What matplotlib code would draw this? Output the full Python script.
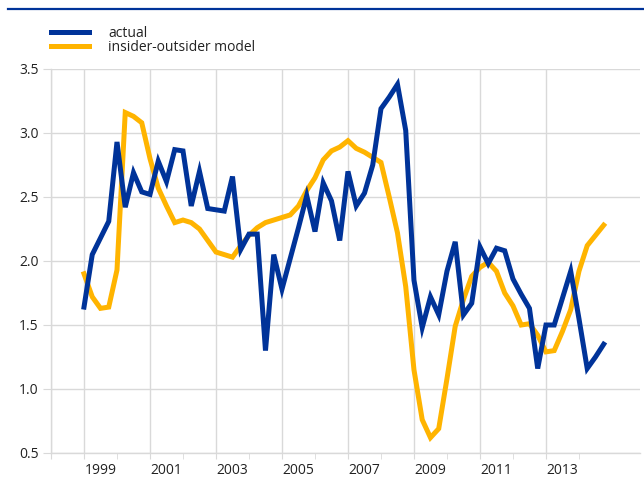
import matplotlib
matplotlib.use("Agg")
import matplotlib.pyplot as plt
import matplotlib.transforms as mtransforms
import numpy as np

plt.rcParams['font.family'] = ['Open Sans', 'DejaVu Sans']

# Quarterly data, 1999Q1 .. 2014Q4
start_year = 1999
actual = [1.64, 2.05, 2.18, 2.31, 2.93, 2.42, 2.69, 2.54,
          2.52, 2.78, 2.62, 2.87, 2.86, 2.43, 2.70, 2.41,
          2.40, 2.39, 2.66, 2.09, 2.21, 2.21, 1.30, 2.05,
          1.78, 2.02, 2.26, 2.51, 2.23, 2.61, 2.47, 2.16,
          2.70, 2.43, 2.53, 2.75, 3.19, 3.28, 3.38, 3.02,
          1.85, 1.48, 1.72, 1.58, 1.92, 2.15, 1.58, 1.67,
          2.11, 1.98, 2.10, 2.08, 1.86, 1.74, 1.63, 1.16,
          1.50, 1.50, 1.71, 1.92, 1.55, 1.16, 1.25, 1.35]
model = [1.90, 1.72, 1.63, 1.64, 1.93, 3.16, 3.13, 3.08,
         2.80, 2.57, 2.43, 2.30, 2.32, 2.30, 2.25, 2.16,
         2.07, 2.05, 2.03, 2.12, 2.20, 2.26, 2.30, 2.32,
         2.34, 2.36, 2.43, 2.55, 2.65, 2.79, 2.86, 2.89,
         2.94, 2.88, 2.85, 2.81, 2.77, 2.50, 2.22, 1.80,
         1.15, 0.76, 0.62, 0.69, 1.08, 1.49, 1.70, 1.88,
         1.95, 1.99, 1.92, 1.75, 1.65, 1.50, 1.51, 1.42,
         1.29, 1.30, 1.45, 1.62, 1.92, 2.12, 2.20, 2.28]
label_years = [1999, 2001, 2003, 2005, 2007, 2009, 2011, 2013]
series_names = ["actual", "insider-outsider model"]
yticks = [0.5, 1.0, 1.5, 2.0, 2.5, 3.0, 3.5]

BLUE = "#003399"
YELLOW = "#FFB400"
GRID = "#D9D9D9"

x = start_year + np.arange(len(actual)) / 4.0

fig = plt.figure(figsize=(6.44, 4.88), dpi=100)
ax = fig.add_axes([51/644, 1-453/488, (640-51)/644, (453-69)/488])

l_act, = ax.plot(x, actual, color=BLUE, lw=3.6, solid_joinstyle='miter', zorder=4)
l_mod, = ax.plot(x, model, color=YELLOW, lw=3.6, solid_joinstyle='miter', zorder=3)

ax.set_xlim(1998.0, 2015.85)
ax.set_ylim(0.5, 3.5)

ax.set_yticks(yticks)
ax.set_yticklabels([f"{v:.1f}" for v in yticks])
ax.set_xticks([1998] + label_years)
ax.set_xticklabels([])
ax.set_xticks([y + 1 for y in label_years], minor=True)

ax.grid(True, which='major', color=GRID, lw=1.0, zorder=0)
ax.set_axisbelow(True)
for s in ['top', 'right']:
    ax.spines[s].set_visible(False)
for s in ['left', 'bottom']:
    ax.spines[s].set_color(GRID)
    ax.spines[s].set_linewidth(1.0)
ax.tick_params(axis='y', which='major', length=6, color=GRID, labelsize=10, pad=3, labelcolor='#222222')
ax.tick_params(axis='x', which='both', length=4, color=GRID, direction='out')

trans = mtransforms.blended_transform_factory(ax.transData, ax.transAxes)
for yr in label_years:
    ax.text(yr + 0.5, -0.025, str(yr), transform=trans, ha='center', va='top',
            fontsize=10, color='#222222')

fig.legend([l_act, l_mod], series_names,
           loc='upper left', bbox_to_anchor=(51/644, 1-26/488), frameon=False,
           fontsize=10, handlelength=2.7, handletextpad=1.4, labelspacing=-0.1,
           borderaxespad=0, borderpad=0, labelcolor='#222222')

# top rule
fig.add_artist(plt.Line2D([8/644, 1.0], [1-9/488, 1-9/488], color=BLUE, lw=1.6,
                          transform=fig.transFigure))

fig.savefig("out.png", dpi=100)
